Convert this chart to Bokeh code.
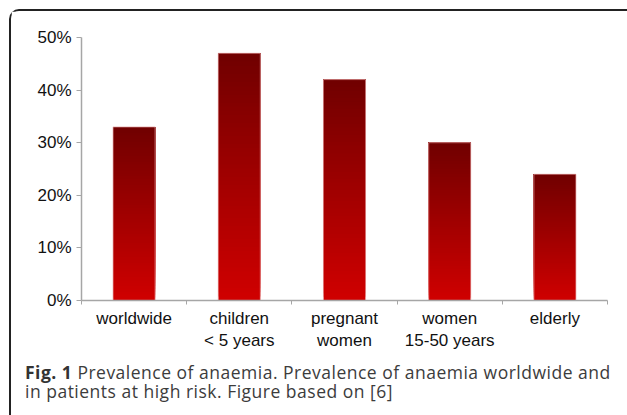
from bokeh.plotting import figure
from bokeh.models import FixedTicker, NumeralTickFormatter, Range1d, Div
from bokeh.layouts import column
from bokeh.embed import file_html
from bokeh.resources import INLINE

categories = ["worldwide", "children\n< 5 years", "pregnant\nwomen", "women\n15-50 years", "elderly"]
values = [0.33, 0.47, 0.42, 0.30, 0.24]
y_ticks = [0.0, 0.1, 0.2, 0.3, 0.4, 0.5]
caption_bold = "Fig. 1"
caption_line1 = "Prevalence of anaemia. Prevalence of anaemia worldwide and"
caption_line2 = "in patients at high risk. Figure based on [6]"

p = figure(width=616, height=352, output_backend="svg", toolbar_location=None,
           x_range=Range1d(0, len(categories)), y_range=Range1d(0, 0.5),
           min_border_left=70, min_border_right=20, min_border_top=26, min_border_bottom=63)
p.outline_line_color = None
p.xgrid.visible = False
p.ygrid.visible = False

# gradient bars built from overlapping slices (dark top -> bright red bottom)
N = 60
top_rgb = (0x70, 0x00, 0x00)
bot_rgb = (0xd0, 0x00, 0x00)
L, R, B, T, C = [], [], [], [], []
for i, v in enumerate(values):
    cx = i + 0.5
    for k in range(N):
        f = (k + 0.5) / N
        rgb = tuple(int(round(bot_rgb[j] + (top_rgb[j] - bot_rgb[j]) * f)) for j in range(3))
        L.append(cx - 0.2); R.append(cx + 0.2)
        B.append(v * k / N); T.append(v)
        C.append("#%02x%02x%02x" % rgb)
p.quad(left=L, right=R, bottom=B, top=T, fill_color=C, line_color=None)
p.vbar(x=[i + 0.5 for i in range(len(values))], top=values, width=0.4,
       fill_color=None, line_color="#e8a8a8", line_width=1, line_alpha=0.7)

ax = p.xaxis[0]
ax.ticker = FixedTicker(ticks=[i + 0.5 for i in range(len(categories))],
                        minor_ticks=list(range(len(categories) + 1)))
ax.major_label_overrides = {i + 0.5: c for i, c in enumerate(categories)}
ax.major_tick_line_color = None
ax.minor_tick_in = 0
ax.minor_tick_out = 4
ax.minor_tick_line_color = "#a6a6a6"
ax.axis_line_color = "#a6a6a6"
ax.axis_line_width = 1.5
ax.major_label_text_font = "Liberation Sans"
ax.major_label_text_font_size = "17px"
ax.major_label_text_color = "#111111"
ax.major_label_standoff = 2

ay = p.yaxis[0]
ay.ticker = FixedTicker(ticks=y_ticks)
ay.formatter = NumeralTickFormatter(format="0%")
ay.major_tick_in = 0
ay.major_tick_out = 5
ay.minor_tick_line_color = None
ay.major_tick_line_color = "#a6a6a6"
ay.axis_line_color = "#a6a6a6"
ay.axis_line_width = 1.5
ay.major_label_text_font = "Liberation Sans"
ay.major_label_text_font_size = "17px"
ay.major_label_text_color = "#111111"
ay.major_label_standoff = 5

line_style = ("font-family: 'Open Sans'; font-size: 17.5px; line-height: 19px; "
              "letter-spacing: 0.5px; color: #3c3c3c; white-space: nowrap; margin: 0;")
caption_html = (
    f'<div style="padding-left: 14px;">'
    f'<div style="{line_style}"><span style="font-weight: bold; color: #333333;">{caption_bold}</span>'
    f'<span style="margin-left: 5px;">{caption_line1}</span></div>'
    f'<div style="{line_style}"><span>{caption_line2}</span></div>'
    f'</div>'
)
cap = Div(text=caption_html, width=616, height=52, margin=0)

layout = column(p, cap, margin=(9, 0, 0, 9),
                styles={"border-top": "2px solid #222222", "border-left": "2px solid #222222",
                        "border-top-left-radius": "10px"})

open("out.html", "w").write(file_html(layout, INLINE))
